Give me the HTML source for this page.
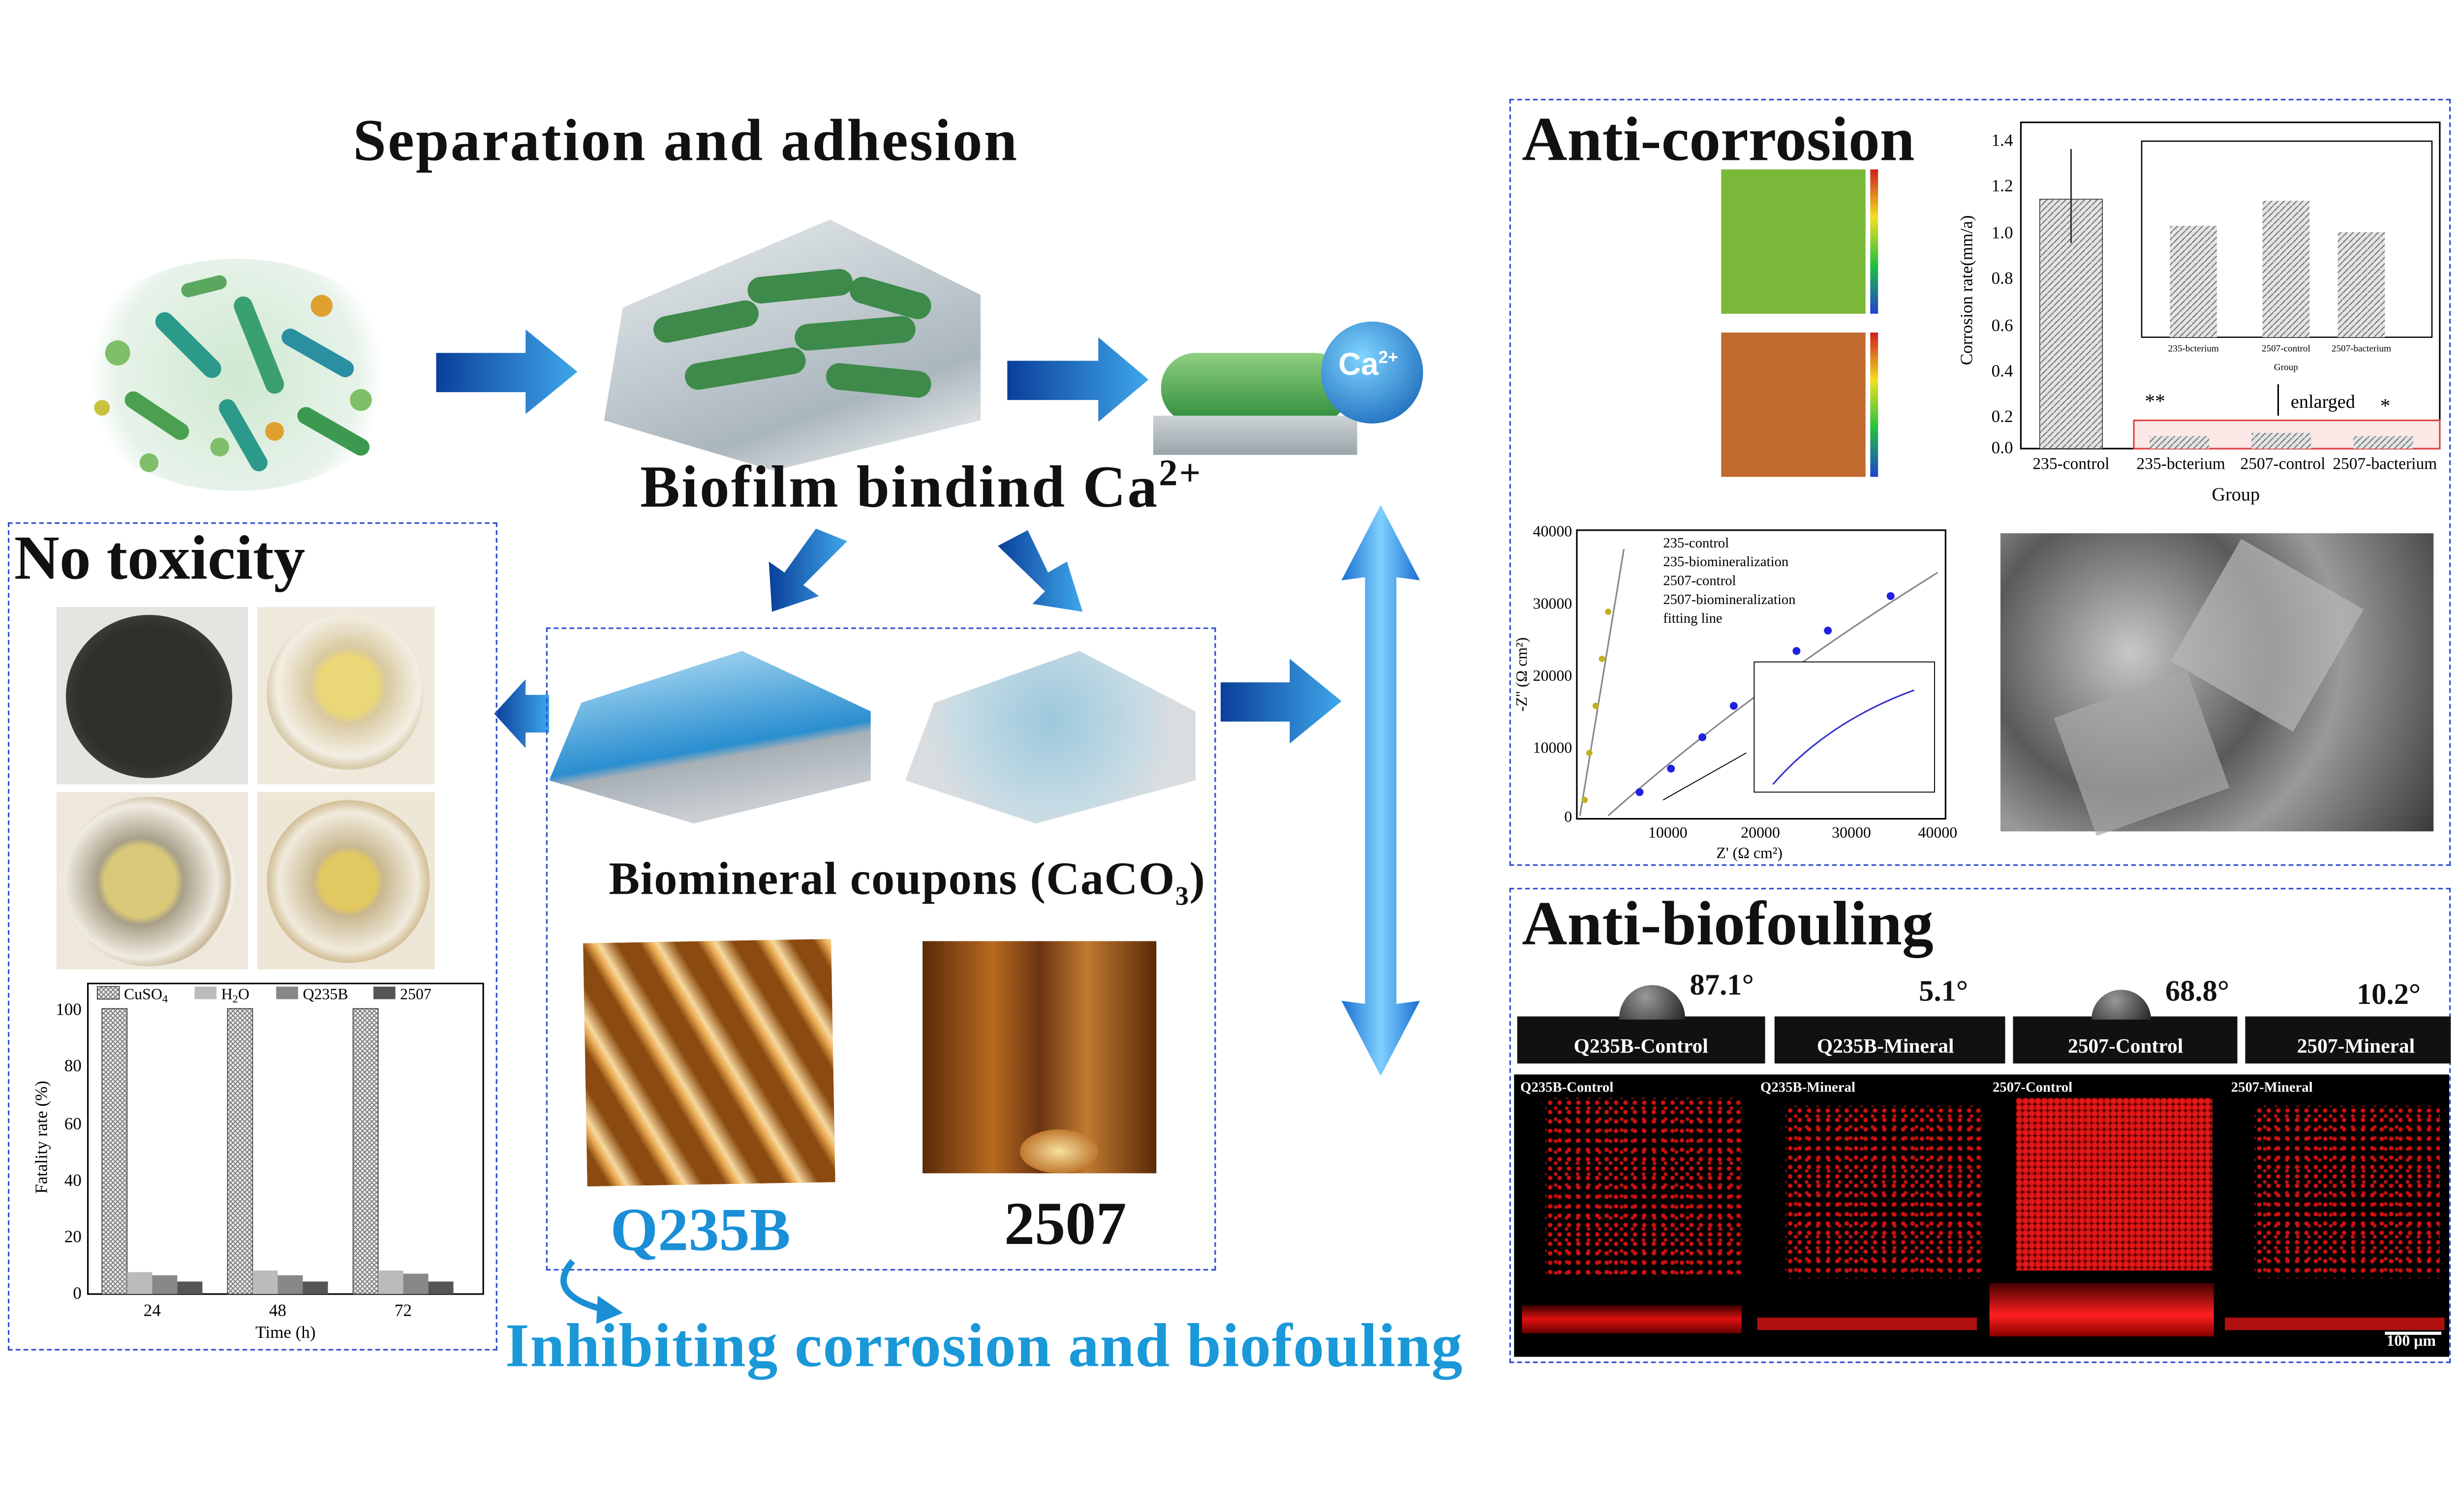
<!DOCTYPE html>
<html><head><meta charset="utf-8"><style>
html,body{margin:0;padding:0;background:#fff;}
body{width:5120px;height:3072px;overflow:hidden;}
#s{position:absolute;left:0;top:0;width:1606px;height:964px;transform:scale(3.189);transform-origin:0 0;font-family:"Liberation Serif",serif;}
.a{position:absolute;}
.t{position:absolute;font-weight:bold;white-space:nowrap;color:#111;}
.box{position:absolute;border:1.3px dashed #2f4fd0;box-sizing:border-box;}
.ph{position:absolute;}
</style></head><body><div id="s">

<div class="t" style="left:225px;top:68px;font-size:38px;letter-spacing:1px">Separation and adhesion</div>

<div class="ph" style="left:45px;top:165px;width:212px;height:148px;border-radius:50%;background:radial-gradient(circle at 50% 50%,#cfe8d0 0%,#e7f3ea 60%,#fff 72%);"></div>
<svg class="a" style="left:45px;top:165px" width="212" height="148">
<g stroke-linecap="round">
<line x1="60" y1="40" x2="90" y2="70" stroke="#2b9a8a" stroke-width="12"/>
<line x1="110" y1="30" x2="130" y2="80" stroke="#3aa070" stroke-width="12"/>
<line x1="140" y1="50" x2="175" y2="70" stroke="#2a8fa0" stroke-width="11"/>
<line x1="40" y1="90" x2="70" y2="110" stroke="#4aa050" stroke-width="11"/>
<line x1="100" y1="95" x2="120" y2="130" stroke="#2b9a8a" stroke-width="11"/>
<line x1="150" y1="100" x2="185" y2="120" stroke="#3c9a50" stroke-width="11"/>
<line x1="75" y1="20" x2="95" y2="15" stroke="#5aa860" stroke-width="9"/>
</g>
<g fill="#7fbf6a"><circle cx="30" cy="60" r="8"/><circle cx="160" cy="30" r="7" fill="#e0a030"/><circle cx="95" cy="120" r="6"/><circle cx="185" cy="90" r="7"/><circle cx="130" cy="110" r="6" fill="#e0a030"/><circle cx="50" cy="130" r="6"/><circle cx="20" cy="95" r="5" fill="#c9c040"/></g>
</svg>

<svg class="a" style="left:0;top:0" width="1606" height="964">
<defs><linearGradient id="bl" x1="0" x2="1"><stop offset="0" stop-color="#0a3f9a"/><stop offset="1" stop-color="#3fa7ea"/></linearGradient>
<linearGradient id="bv" x1="0" x2="1"><stop offset="0" stop-color="#1a6fd0"/><stop offset=".5" stop-color="#7fd0ff"/><stop offset="1" stop-color="#1a6fd0"/></linearGradient></defs>
<polygon points="278,225 335,225 335,210 368,237 335,264 335,250 278,250" fill="url(#bl)"/>
<polygon points="642,230 700,230 700,215 732,242 700,269 700,255 642,255" fill="url(#bl)"/>
<polygon points="778,435 822,435 822,420 855,447 822,474 822,460 778,460" fill="url(#bl)"/>
<polygon points="350,443 335,443 335,433 315,455 335,477 335,467 350,467" fill="url(#bl)"/>
<polygon points="540,345 520,337 500,365 490,358 492,390 522,380 512,373" fill="url(#bl)"/>
<polygon points="636,348 655,338 668,365 680,358 690,390 658,385 666,377" fill="url(#bl)"/>
<path d="M880,322 L905,370 L890,368 L890,640 L905,638 L880,686 L855,638 L870,640 L870,368 L855,370 Z" fill="url(#bv)"/>
</svg>

<div class="ph" style="left:385px;top:140px;width:240px;height:160px;background:linear-gradient(160deg,#e9eef0,#aab6bd 70%,#fff);clip-path:polygon(5% 35%,60% 0,100% 30%,100% 80%,45% 100%,0 80%);"></div>
<svg class="a" style="left:385px;top:140px" width="240" height="160"><g stroke="#3e8a4a" stroke-width="17" stroke-linecap="round">
<line x1="40" y1="70" x2="90" y2="60"/><line x1="100" y1="45" x2="150" y2="40"/><line x1="60" y1="100" x2="120" y2="90"/><line x1="130" y1="75" x2="190" y2="70"/><line x1="150" y1="100" x2="200" y2="105"/><line x1="165" y1="45" x2="200" y2="55"/></g></svg>

<div class="ph" style="left:740px;top:225px;width:120px;height:45px;border-radius:22px;background:linear-gradient(#8fd080,#2c8a3a);"></div>
<div class="ph" style="left:735px;top:265px;width:130px;height:25px;background:linear-gradient(#ccd3d6,#9aa4aa);"></div>
<div class="ph" style="left:842px;top:205px;width:65px;height:65px;border-radius:50%;background:radial-gradient(circle at 40% 35%,#7fd5ff,#0a58b0);"></div>
<div class="t" style="left:853px;top:222px;font-size:20px;color:#fff;font-family:'Liberation Sans',sans-serif">Ca<sup style="font-size:11px">2+</sup></div>

<div class="t" style="left:408px;top:289px;font-size:38px;letter-spacing:1px">Biofilm bindind Ca<sup style="font-size:24px">2+</sup></div>

<div class="box" style="left:5px;top:333px;width:312px;height:528px"></div>
<div class="t" style="left:9px;top:332px;font-size:40px">No toxicity</div>
<div class="ph" style="left:36px;top:387px;width:122px;height:113px;background:#e6e4e0"></div>
<div class="ph" style="left:42px;top:392px;width:106px;height:104px;border-radius:50%;background:radial-gradient(#2f2f2c 60%,#5a5955)"></div>
<div class="ph" style="left:164px;top:387px;width:113px;height:113px;background:#efe9dc"></div>
<div class="ph" style="left:170px;top:392px;width:100px;height:100px;border-radius:50%;background:radial-gradient(circle at 52% 45%,#e9d778 0 25%,#d9c9a0 32%,#f3efe4 60%,#d6c9a8 70%,#f2eee5 72%)"></div>
<div class="ph" style="left:36px;top:505px;width:122px;height:113px;background:#eee8dc"></div>
<div class="ph" style="left:40px;top:508px;width:110px;height:108px;border-radius:50%;background:radial-gradient(circle at 45% 50%,#d8c878 0 28%,#a8a088 34%,#f1ece2 60%,#c8b898 70%,#f2eee5 72%)"></div>
<div class="ph" style="left:164px;top:505px;width:113px;height:113px;background:#eee6d6"></div>
<div class="ph" style="left:170px;top:510px;width:104px;height:104px;border-radius:50%;background:radial-gradient(circle at 50% 50%,#e2c860 0 24%,#c9b890 30%,#f1ebdd 60%,#d4c098 70%,#f2eee5 72%)"></div>

<svg class="a" style="left:18px;top:625px;font-family:'Liberation Serif',serif" width="295" height="232">
<defs><pattern id="hx" width="3" height="3" patternUnits="userSpaceOnUse"><rect width="3" height="3" fill="#eee"/><path d="M0,0L3,3M3,0L0,3" stroke="#777" stroke-width=".6"/></pattern></defs>
<rect x="38" y="2" width="252" height="198" fill="none" stroke="#000" stroke-width="1"/>
<g font-size="11" text-anchor="end"><text x="34" y="22">100</text><text x="34" y="58">80</text><text x="34" y="95">60</text><text x="34" y="131">40</text><text x="34" y="167">20</text><text x="34" y="203">0</text></g>
<text x="12" y="100" font-size="11" transform="rotate(-90 12 100)" text-anchor="middle">Fatality rate (%)</text>
<g font-size="11" text-anchor="middle"><text x="79" y="214">24</text><text x="159" y="214">48</text><text x="239" y="214">72</text><text x="164" y="228">Time (h)</text></g>
<g><rect x="47" y="18" width="16" height="182" fill="url(#hx)" stroke="#333" stroke-width=".5"/><rect x="127" y="18" width="16" height="182" fill="url(#hx)" stroke="#333" stroke-width=".5"/><rect x="207" y="18" width="16" height="182" fill="url(#hx)" stroke="#333" stroke-width=".5"/>
<rect x="63" y="186" width="16" height="14" fill="#bbb"/><rect x="79" y="188" width="16" height="12" fill="#888"/><rect x="95" y="192" width="16" height="8" fill="#555"/>
<rect x="143" y="185" width="16" height="15" fill="#bbb"/><rect x="159" y="188" width="16" height="12" fill="#888"/><rect x="175" y="192" width="16" height="8" fill="#555"/>
<rect x="223" y="185" width="16" height="15" fill="#bbb"/><rect x="239" y="187" width="16" height="13" fill="#888"/><rect x="255" y="192" width="16" height="8" fill="#555"/></g>
<g font-size="10"><rect x="44" y="4" width="14" height="8" fill="url(#hx)" stroke="#333" stroke-width=".5"/><text x="61" y="12">CuSO<tspan font-size="7" dy="2">4</tspan></text>
<rect x="106" y="4" width="14" height="8" fill="#bbb"/><text x="123" y="12">H<tspan font-size="7" dy="2">2</tspan><tspan dy="-2">O</tspan></text>
<rect x="158" y="4" width="14" height="8" fill="#888"/><text x="175" y="12">Q235B</text>
<rect x="220" y="4" width="14" height="8" fill="#555"/><text x="237" y="12">2507</text></g>
</svg>

<div class="box" style="left:348px;top:400px;width:427px;height:410px"></div>
<div class="ph" style="left:350px;top:415px;width:205px;height:110px;background:linear-gradient(170deg,#bfe6f8,#2a8ed0 55%,#a8b0b6 60%,#dfe3e6);clip-path:polygon(10% 30%,60% 0,100% 35%,100% 75%,45% 100%,0 75%)"></div>
<div class="ph" style="left:577px;top:415px;width:185px;height:110px;background:radial-gradient(circle at 50% 40%,#9cc8dc,#c5dbe4 50%,#d9dde0 70%);clip-path:polygon(10% 30%,60% 0,100% 35%,100% 75%,45% 100%,0 75%)"></div>
<div class="t" style="left:388px;top:545px;font-size:29.5px;font-weight:bold;letter-spacing:.5px">Biomineral coupons (CaCO<sub style="font-size:17px">3</sub>)</div>
<div class="ph" style="left:373px;top:600px;width:158px;height:155px;background:repeating-linear-gradient(60deg,#8a4a10 0 12px,#e8a850 18px,#f7d9a0 22px,#8a4a10 32px),#b06a20;transform:rotate(-1deg)"></div>
<div class="ph" style="left:588px;top:600px;width:149px;height:148px;background:linear-gradient(90deg,#5a2a08,#b86a20 30%,#6a3410 50%,#c07a30 70%,#5a2a08);"></div>
<div class="ph" style="left:650px;top:720px;width:50px;height:28px;background:radial-gradient(#f8e0a0,#c07a30 70%,transparent 71%)"></div>
<div class="t" style="left:389px;top:762px;font-size:39px;color:#1a8fd6;font-weight:bold">Q235B</div>
<div class="t" style="left:640px;top:758px;font-size:39px;font-weight:bold">2507</div>
<svg class="a" style="left:345px;top:800px" width="70" height="50"><path d="M20,4 Q2,25 40,35" stroke="#1a8fd6" stroke-width="4" fill="none"/><polygon points="36,26 52,37 35,44" fill="#1a8fd6"/></svg>
<div class="t" style="left:322px;top:835px;font-size:39.5px;color:#1a98d8;letter-spacing:.5px">Inhibiting corrosion and biofouling</div>

<div class="box" style="left:962px;top:63px;width:600px;height:489px"></div>
<div class="t" style="left:970px;top:65px;font-size:40px">Anti-corrosion</div>
<div class="ph" style="left:1097px;top:108px;width:92px;height:92px;background:#7ab83a"></div>
<div class="ph" style="left:1192px;top:108px;width:5px;height:92px;background:linear-gradient(#d02020,#f0e020,#20c040,#2040d0)"></div>
<div class="ph" style="left:1097px;top:212px;width:92px;height:92px;background:#c06a30"></div>
<div class="ph" style="left:1192px;top:212px;width:5px;height:92px;background:linear-gradient(#d02020,#f0e020,#20c040,#2040d0)"></div>

<svg class="a" style="left:1245px;top:75px;font-family:'Liberation Serif',serif" width="315" height="250">
<defs><pattern id="hh" width="4" height="4" patternUnits="userSpaceOnUse"><rect width="4" height="4" fill="#e4e4e4"/><path d="M0,4L4,0" stroke="#777" stroke-width=".7"/></pattern></defs>
<rect x="43" y="3" width="267" height="208" fill="none" stroke="#000"/>
<g font-size="11" text-anchor="end"><text x="38" y="18">1.4</text><text x="38" y="47">1.2</text><text x="38" y="77">1.0</text><text x="38" y="106">0.8</text><text x="38" y="136">0.6</text><text x="38" y="165">0.4</text><text x="38" y="194">0.2</text><text x="38" y="214">0.0</text></g>
<text x="12" y="110" font-size="11" transform="rotate(-90 12 110)" text-anchor="middle">Corrosion rate(mm/a)</text>
<rect x="55" y="52" width="40" height="159" fill="url(#hh)" stroke="#333" stroke-width=".5"/>
<line x1="75" y1="20" x2="75" y2="80" stroke="#333"/>
<rect x="115" y="193" width="195" height="18" fill="#fde8e8" stroke="#e04040"/>
<rect x="125" y="203" width="38" height="8" fill="url(#hh)"/><rect x="190" y="201" width="38" height="10" fill="url(#hh)"/><rect x="255" y="203" width="38" height="8" fill="url(#hh)"/>
<text x="122" y="185" font-size="13">**</text><text x="272" y="188" font-size="13">*</text>
<text x="215" y="185" font-size="12">enlarged</text><line x1="207" y1="190" x2="207" y2="170" stroke="#000"/>
<g font-size="10.5" text-anchor="middle"><text x="75" y="224">235-control</text><text x="145" y="224">235-bcterium</text><text x="210" y="224">2507-control</text><text x="275" y="224">2507-bacterium</text></g>
<text x="180" y="244" font-size="12" text-anchor="middle">Group</text>
<rect x="120" y="15" width="185" height="125" fill="#fff" stroke="#000" stroke-width=".8"/>
<rect x="138" y="69" width="30" height="71" fill="url(#hh)"/><rect x="197" y="53" width="30" height="87" fill="url(#hh)"/><rect x="245" y="73" width="30" height="67" fill="url(#hh)"/>
<g font-size="6" text-anchor="middle"><text x="153" y="149">235-bcterium</text><text x="212" y="149">2507-control</text><text x="260" y="149">2507-bacterium</text><text x="212" y="161">Group</text></g>
</svg>

<svg class="a" style="left:965px;top:330px;font-family:'Liberation Serif',serif" width="285" height="222">
<rect x="40" y="8" width="235" height="184" fill="none" stroke="#000"/>
<g font-size="10" text-anchor="end"><text x="37" y="12">40000</text><text x="37" y="58">30000</text><text x="37" y="104">20000</text><text x="37" y="150">10000</text><text x="37" y="194">0</text></g>
<g font-size="10" text-anchor="middle"><text x="98" y="204">10000</text><text x="157" y="204">20000</text><text x="215" y="204">30000</text><text x="270" y="204">40000</text><text x="150" y="217">Z' (Ω cm²)</text></g>
<text x="8" y="100" font-size="10" transform="rotate(-90 8 100)" text-anchor="middle">-Z'' (Ω cm²)</text>
<path d="M42,190 L70,20" stroke="#888" fill="none"/><path d="M60,190 Q150,110 270,35" stroke="#888" fill="none"/>
<g fill="#2020e0"><circle cx="80" cy="175" r="2.5"/><circle cx="100" cy="160" r="2.5"/><circle cx="120" cy="140" r="2.5"/><circle cx="140" cy="120" r="2.5"/><circle cx="160" cy="100" r="2.5"/><circle cx="180" cy="85" r="2.5"/><circle cx="200" cy="72" r="2.5"/><circle cx="240" cy="50" r="2.5"/></g>
<g fill="#c0b020"><circle cx="45" cy="180" r="2"/><circle cx="48" cy="150" r="2"/><circle cx="52" cy="120" r="2"/><circle cx="56" cy="90" r="2"/><circle cx="60" cy="60" r="2"/></g>
<rect x="153" y="92" width="115" height="83" fill="#fff" stroke="#000" stroke-width=".6"/>
<path d="M165,170 Q200,130 255,110" stroke="#33c" fill="none"/>
<line x1="95" y1="180" x2="148" y2="150" stroke="#000" stroke-width=".6"/>
<g font-size="9"><text x="95" y="19">235-control</text><text x="95" y="31">235-biomineralization</text><text x="95" y="43">2507-control</text><text x="95" y="55">2507-biomineralization</text><text x="95" y="67">fitting line</text></g>
</svg>
<div class="ph" style="left:1275px;top:340px;width:276px;height:190px;background:radial-gradient(circle at 30% 40%,#c8c8c8,#5a5a5a 40%,#9a9a9a 60%,#3a3a3a),#777"></div>
<div class="ph" style="left:1400px;top:360px;width:90px;height:90px;background:#b8b8b8;transform:rotate(30deg);opacity:.7"></div>
<div class="ph" style="left:1320px;top:440px;width:90px;height:80px;background:#a8a8a8;transform:rotate(-20deg);opacity:.7"></div>

<div class="box" style="left:962px;top:566px;width:600px;height:303px"></div>
<div class="t" style="left:970px;top:565px;font-size:40px">Anti-biofouling</div>
<div class="ph" style="left:967px;top:648px;width:158px;height:30px;background:#111"></div>
<div class="ph" style="left:1131px;top:648px;width:147px;height:30px;background:#111"></div>
<div class="ph" style="left:1283px;top:648px;width:143px;height:30px;background:#111"></div>
<div class="ph" style="left:1431px;top:648px;width:131px;height:30px;background:#111"></div>
<div class="ph" style="left:1032px;top:628px;width:42px;height:22px;border-radius:21px 21px 0 0;background:radial-gradient(circle at 40% 35%,#999,#222)"></div>
<div class="ph" style="left:1333px;top:631px;width:38px;height:19px;border-radius:19px 19px 0 0;background:radial-gradient(circle at 40% 35%,#999,#222)"></div>
<div class="t" style="left:1077px;top:618px;font-size:19px">87.1°</div>
<div class="t" style="left:1223px;top:622px;font-size:19px">5.1°</div>
<div class="t" style="left:1380px;top:622px;font-size:19px">68.8°</div>
<div class="t" style="left:1502px;top:624px;font-size:19px">10.2°</div>
<div class="t" style="left:1003px;top:659px;font-size:13px;color:#fff">Q235B-Control</div>
<div class="t" style="left:1158px;top:659px;font-size:13px;color:#fff">Q235B-Mineral</div>
<div class="t" style="left:1318px;top:659px;font-size:13px;color:#fff">2507-Control</div>
<div class="t" style="left:1464px;top:659px;font-size:13px;color:#fff">2507-Mineral</div>

<div class="ph" style="left:965px;top:685px;width:596px;height:180px;background:#000"></div>
<div class="ph" style="left:985px;top:700px;width:125px;height:115px;background:radial-gradient(#d01010 1.2px,transparent 1.6px) 0 0/6px 6px,radial-gradient(#c01010 1px,transparent 1.4px) 3px 3px/7px 7px;"></div>
<div class="ph" style="left:1138px;top:705px;width:125px;height:110px;background:radial-gradient(#d01010 1.2px,transparent 1.6px) 0 0/6px 6px,radial-gradient(#c01010 1px,transparent 1.4px) 3px 3px/7px 7px;"></div>
<div class="ph" style="left:1285px;top:700px;width:125px;height:110px;background:radial-gradient(#e01818 1.8px,transparent 2px) 0 0/4px 4px,#600"></div>
<div class="ph" style="left:1437px;top:705px;width:118px;height:110px;background:radial-gradient(#d01010 1.2px,transparent 1.6px) 0 0/6px 6px,radial-gradient(#c01010 1px,transparent 1.4px) 3px 3px/7px 7px;"></div>
<div class="ph" style="left:970px;top:832px;width:140px;height:18px;background:linear-gradient(#300,#e01010 50%,#600)"></div>
<div class="ph" style="left:1120px;top:840px;width:140px;height:8px;background:#b01010"></div>
<div class="ph" style="left:1268px;top:818px;width:143px;height:34px;background:linear-gradient(#400,#ff2020 60%,#800)"></div>
<div class="ph" style="left:1418px;top:840px;width:140px;height:8px;background:#b01010"></div>
<div class="t" style="left:969px;top:688px;font-size:9px;color:#fff">Q235B-Control</div>
<div class="t" style="left:1122px;top:688px;font-size:9px;color:#fff">Q235B-Mineral</div>
<div class="t" style="left:1270px;top:688px;font-size:9px;color:#fff">2507-Control</div>
<div class="t" style="left:1422px;top:688px;font-size:9px;color:#fff">2507-Mineral</div>
<div class="ph" style="left:1520px;top:849px;width:36px;height:2px;background:#fff"></div>
<div class="t" style="left:1521px;top:850px;font-size:10px;color:#fff">100 μm</div>

</div></body></html>
